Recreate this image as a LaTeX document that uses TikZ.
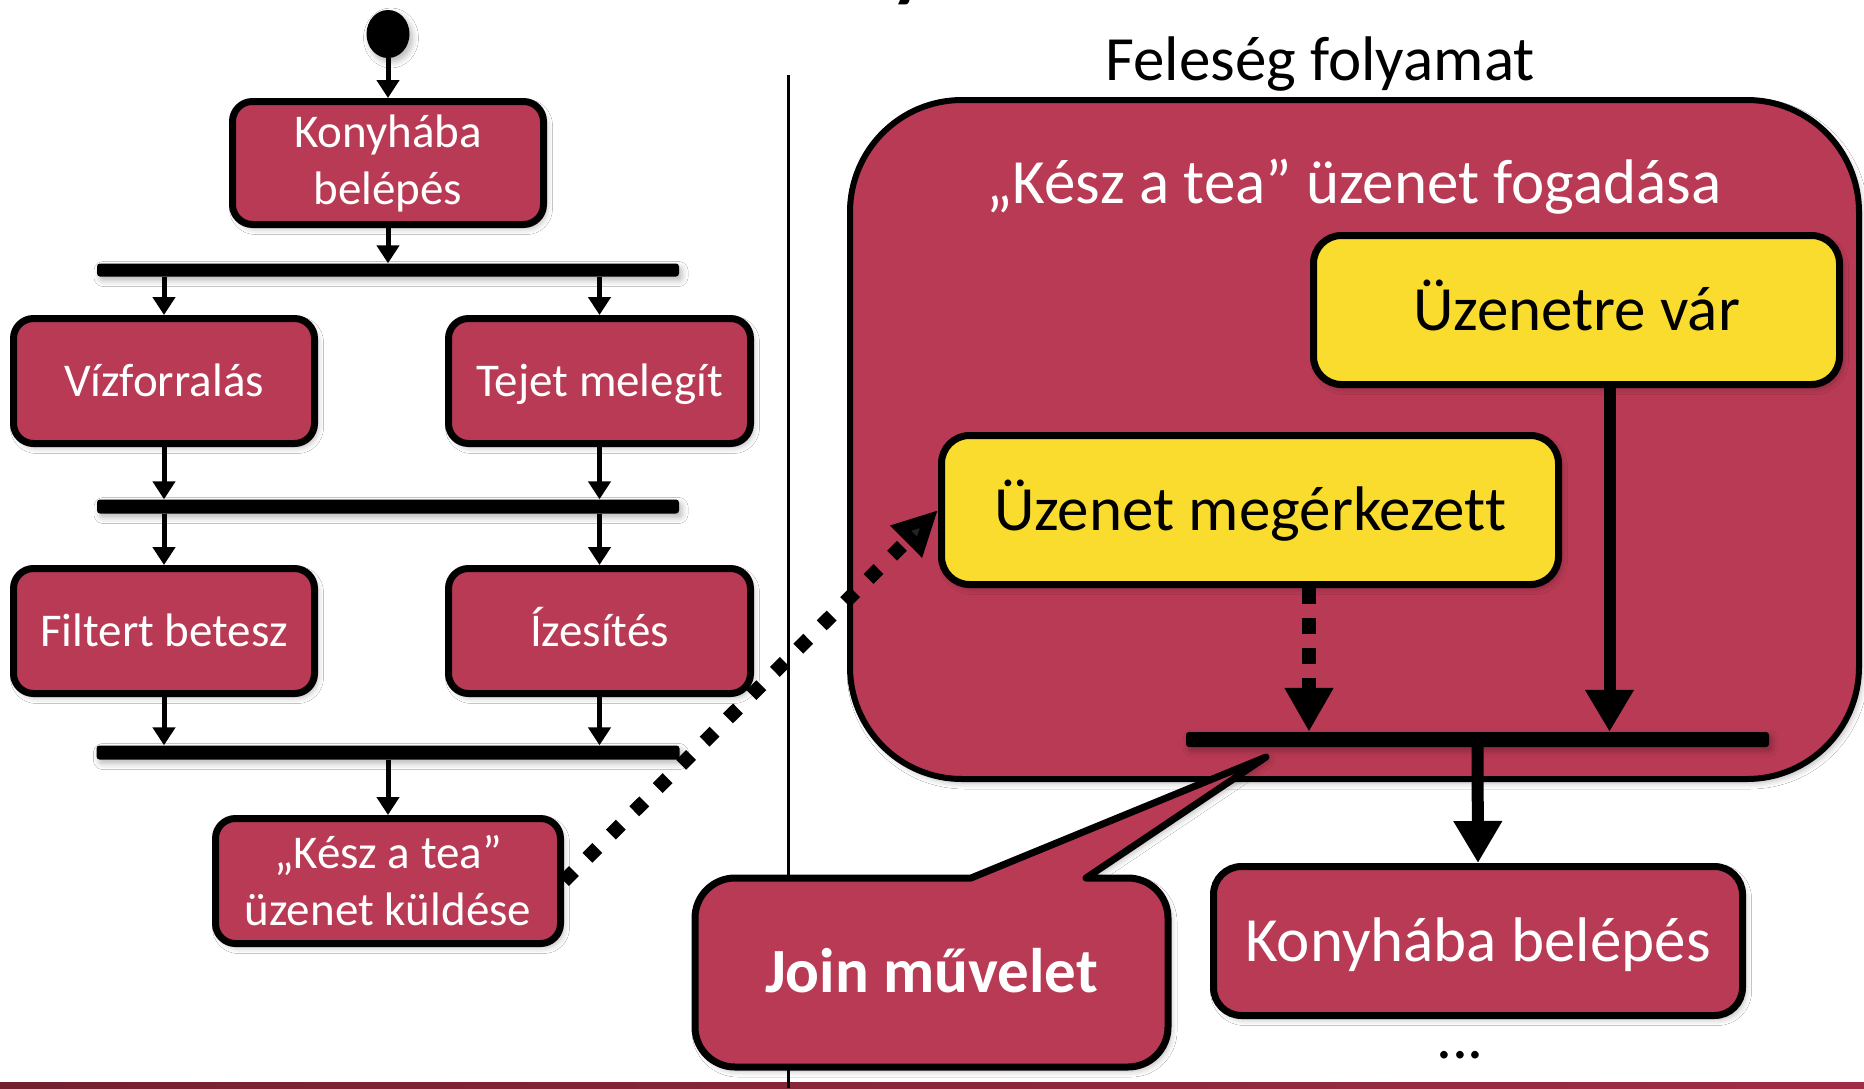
\documentclass[tikz,border=0pt]{standalone}
\usepackage{fontspec}
\setmainfont{Carlito}[Ligatures=NoCommon]
\usetikzlibrary{arrows.meta,shapes.geometric,shadows.blur,calc}

\definecolor{actred}{HTML}{B83A54}
\definecolor{waityel}{HTML}{F9DC2E}
\definecolor{barleft}{HTML}{74202F}
\definecolor{barright}{HTML}{A02D45}

\newcommand\fsmall{\fontsize{47}{57}\selectfont}
\newcommand\flarge{\fontsize{63}{77}\selectfont}

\tikzset{
  softshadow/.style={blur shadow={shadow xshift=3pt, shadow yshift=-4pt,
      shadow blur radius=6pt, shadow opacity=28}},
  act/.style={draw, line width=7pt, fill=actred, text=white, rounded corners=20pt,
      align=center, font=\fsmall, inner sep=0pt, softshadow},
  onesmall/.style={text height=37.9pt, text depth=7.6pt},
  onelarge/.style={text height=50.8pt, text depth=10.2pt},
  bigact/.style={act, rounded corners=28pt, font=\flarge, onelarge},
  waitbox/.style={bigact, fill=waityel, text=black},
  region/.style={draw, line width=6pt, fill=actred, rounded corners=112pt,
      inner sep=0pt, softshadow},
  syncbar/.style={fill=black, inner sep=0pt, rounded corners=3pt, softshadow},
  flow/.style={line width=5pt, -{Triangle[length=18pt,width=22pt]}},
  thickflow/.style={line width=12pt, -{Triangle[length=42pt,width=46pt]}},
  dotflow/.style={line width=14pt, dash pattern=on 16pt off 14pt,
      -{Triangle[length=44pt,width=46pt]}},
  msgflow/.style={line width=14pt, dash pattern=on 14pt off 19pt,
      -{Triangle[length=45pt,width=42pt]}},
  lbl/.style={inner sep=0pt, font=\flarge},
}

\begin{document}
\begin{tikzpicture}[x=1pt,y=1pt]
\useasboundingbox (0,0) rectangle (1864,-1088);
\fill[white] (0,0) rectangle (1864,-1088);

% descender of the slide title running off the top edge
\begin{scope}
  \clip (0,0) rectangle (1864,-1088);
  \node[anchor=base west, inner sep=0pt, font=\fontsize{114}{130}\selectfont] (ttl) at (886,14) {y};
\end{scope}

% footer strip
\shade[left color=barleft, right color=barright] (0,-1082.5) rectangle (1864,-1088);

% swimlane divider
\coordinate (divtop) at (788,-75);
\coordinate (divbot) at (788,-1088);
\draw[line width=3pt] (divtop) -- (divbot);

% ---------- husband's process (left lane) ----------
\node[ellipse, fill=black, minimum width=43pt, minimum height=48pt, inner sep=0pt, softshadow] (st) at (388,-34) {};
\node[act, minimum width=311pt, minimum height=123pt] (k1) at (388,-163) {Konyhába\\belépés};
\node[syncbar, minimum width=582pt, minimum height=13pt] (b1) at (388,-270) {};
\node[act, onesmall, minimum width=301pt, minimum height=125pt] (viz) at (164,-381) {Vízforralás};
\node[act, onesmall, minimum width=302pt, minimum height=125pt] (tej) at (599.5,-381) {Tejet melegít};
\node[syncbar, minimum width=582pt, minimum height=14pt] (b2) at (388,-506.5) {};
\node[act, onesmall, minimum width=301pt, minimum height=125pt] (fil) at (164,-631) {Filtert betesz};
\node[act, onesmall, minimum width=302pt, minimum height=125pt] (ize) at (599.5,-631) {Ízesítés};
\node[syncbar, minimum width=583pt, minimum height=14pt] (b3) at (388,-752.5) {};
\node[act, minimum width=345pt, minimum height=125pt] (kesz) at (388,-881) {„Kész a tea”\\üzenet küldése};

\draw[flow] (st.south) -- (k1.north);
\draw[flow] (k1.south) -- (b1.north);
\draw[flow] (b1.south -| viz.north) -- (viz.north);
\draw[flow] (b1.south -| tej.north) -- (tej.north);
\draw[flow] (viz.south) -- (viz.south |- b2.north);
\draw[flow] (tej.south) -- (tej.south |- b2.north);
\draw[flow] (b2.south -| fil.north) -- (fil.north);
\draw[flow] (b2.south -| ize.north) -- (ize.north);
\draw[flow] (fil.south) -- (fil.south |- b3.north);
\draw[flow] (ize.south) -- (ize.south |- b3.north);
\draw[flow] (b3.south) -- (kesz.north);

% ---------- wife's process (right lane) ----------
\node[lbl, anchor=base] (lane) at (1320,-80) {Feleség folyamat};
\node[region, minimum width=1009pt, minimum height=679pt] (reg) at (1354.5,-439.5) {};
\node[lbl, anchor=base, text=white] (regt) at (1354,-203) {„Kész a tea” üzenet fogadása};
\node[waitbox, minimum width=526pt, minimum height=149pt] (uzv) at (1576.5,-310) {Üzenetre vár};
\node[waitbox, minimum width=617pt, minimum height=149pt] (uzm) at (1250,-510) {Üzenet megérkezett};
\node[syncbar, minimum width=583pt, minimum height=15pt] (jb) at (1477.5,-739.5) {};
\node[bigact, minimum width=529pt, minimum height=149pt] (k2) at (1478,-941) {Konyhába belépés};
\node[lbl, anchor=base] (more) at (1460,-1058) {...};

\draw[dotflow] ([xshift=59pt]uzm.south) -- ([xshift=59pt]uzm.south |- jb.north);
\draw[thickflow] ([xshift=33pt]uzv.south) -- ([xshift=33pt]uzv.south |- jb.north);
\draw[thickflow] (jb.south) -- (k2.north);

% callout naming the join bar
\draw[line width=7pt, fill=actred, line join=round, softshadow]
  (971,-878) -- (1266,-757) -- (1086,-878) -- (1128,-878)
  arc[start angle=90, end angle=0, radius=40]
  -- (1168,-1027) arc[start angle=0, end angle=-90, radius=40]
  -- (735,-1067) arc[start angle=270, end angle=180, radius=40]
  -- (695,-918) arc[start angle=180, end angle=90, radius=40]
  -- cycle;
\node[inner sep=0pt, text=white, font=\flarge\bfseries, text height=50.8pt, text depth=10.2pt] (join) at (931.5,-972.5) {Join művelet};

% message sent from one process to the other
\draw[msgflow] (kesz.east) -- (uzm.west);
\end{tikzpicture}
\end{document}
